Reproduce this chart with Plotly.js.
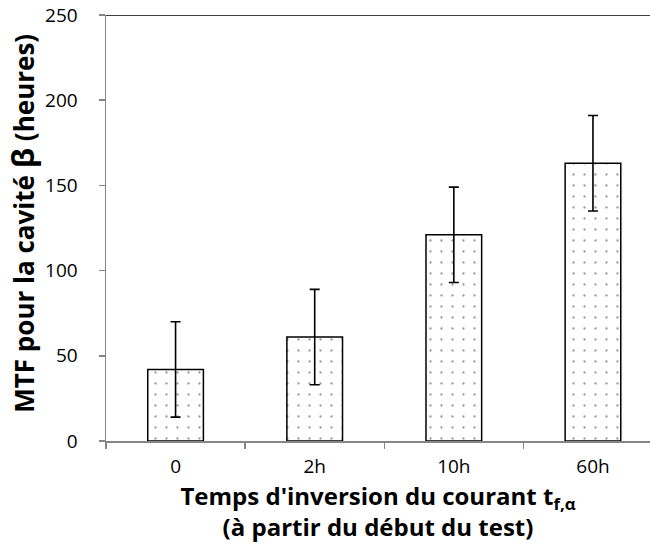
<!DOCTYPE html>
<html>
<head>
<meta charset="utf-8">
<script src="https://cdn.plot.ly/plotly-3.0.1.min.js"></script>
<style>html,body{margin:0;padding:0;background:#fff;}#chart{width:650px;height:547px;}</style>
</head>
<body>
<div id="chart"></div>
<script>
const categories = ["0", "2h", "10h", "60h"];
const mtfValues = [42, 61, 121, 163];
const errorValues = [28, 28, 28, 28];
const yTickValues = [0, 50, 100, 150, 200, 250];
const xTitle = "<b>Temps d'inversion du courant t<sub>f,α</sub><br>(à partir du début du test)</b>";
const yTitle = "<b>MTF pour la cavité <span style='font-size:31px'>β</span> (heures)</b>";

const FONT = "'Open Sans', Lato, sans-serif";

const trace = {
  type: "bar",
  x: categories,
  y: mtfValues,
  width: 0.4,
  marker: {
    color: "#ffffff",
    line: {color: "#000000", width: 1.5},
    pattern: {shape: ".", size: 11, solidity: 0.035, fgcolor: "#333333", bgcolor: "#ffffff", fillmode: "overlay"}
  },
  error_y: {type: "data", array: errorValues, visible: true, color: "#000000", thickness: 1.6, width: 5},
  hoverinfo: "none"
};

const layout = {
  width: 650,
  height: 547,
  margin: {l: 106, r: 0, t: 15, b: 106},
  paper_bgcolor: "#ffffff",
  plot_bgcolor: "#ffffff",
  showlegend: false,
  font: {family: FONT, color: "#000000"},
  xaxis: {
    type: "category",
    range: [-0.5, 3.41],
    tickson: "boundaries",
    ticks: "outside",
    ticklen: 6,
    tickcolor: "#868686",
    tickwidth: 1.5,
    showline: true,
    linecolor: "#868686",
    linewidth: 1.5,
    showgrid: false,
    zeroline: false,
    tickfont: {family: FONT, size: 19, color: "#000000"},
    ticklabelstandoff: 8,
    title: {
      text: xTitle,
      font: {family: FONT, size: 24, color: "#000000"},
      standoff: 0
    },
    fixedrange: true
  },
  yaxis: {
    range: [0, 250],
    tickvals: yTickValues,
    ticks: "outside",
    ticklen: 6,
    tickcolor: "#868686",
    tickwidth: 1.5,
    showline: true,
    linecolor: "#868686",
    linewidth: 1.5,
    showgrid: false,
    zeroline: false,
    tickfont: {family: FONT, size: 19, color: "#000000"},
    ticklabelstandoff: 17,
    fixedrange: true
  },
  annotations: [
    {
      text: yTitle,
      xref: "paper", yref: "paper",
      x: 0, y: 0.51,
      xanchor: "center", yanchor: "middle",
      xshift: -84,
      textangle: -90,
      showarrow: false,
      font: {family: FONT, size: 26, color: "#000000"}
    }
  ],
  shapes: [
    {type: "line", xref: "paper", yref: "y", x0: 0, x1: 1, y0: 250, y1: 250, line: {color: "#000000", width: 1.5}}
  ]
};

Plotly.newPlot("chart", [trace], layout, {displayModeBar: false, staticPlot: true});
</script>
</body>
</html>
